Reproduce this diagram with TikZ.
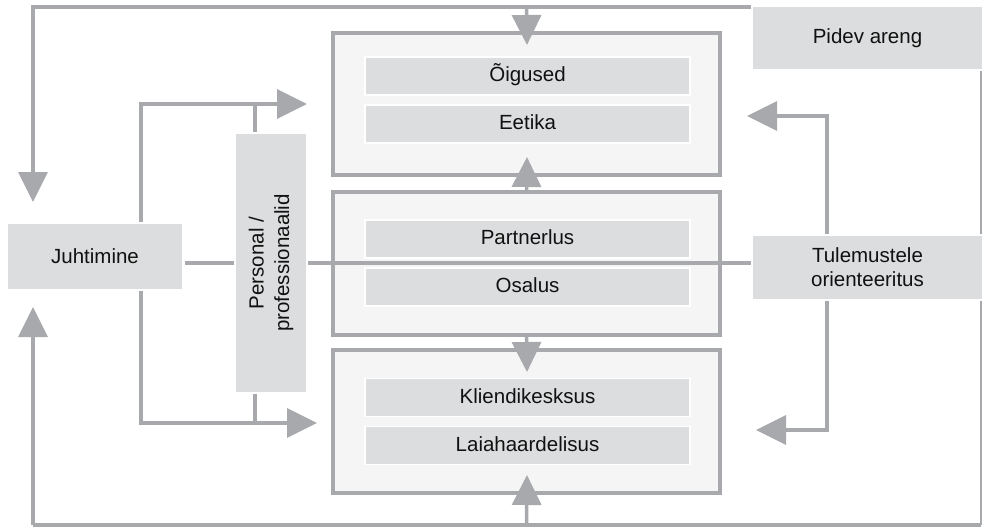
\documentclass[tikz,border=0pt]{standalone}
\usepackage{fontspec}
\setmainfont{Liberation Sans}
\usetikzlibrary{arrows.meta}
\definecolor{lg}{HTML}{A7A9AC}
\definecolor{bf}{HTML}{DCDDDE}
\definecolor{of}{HTML}{F5F5F5}
\definecolor{tx}{HTML}{111111}
\begin{document}
\begin{tikzpicture}[x=1pt,y=-1pt,
  conn/.style={draw=lg, line width=3.5pt},
  thinconn/.style={draw=lg, line width=2pt},
  arr/.style={conn, -{Triangle[length=30pt,width=29pt]}},
  outerbox/.style={draw=lg, line width=3.5pt, fill=of, minimum width=387pt, minimum height=142pt, inner sep=0pt},
  txt/.style={font=\fontsize{20.5}{24}\selectfont, text=tx},
  itembox/.style={txt, draw=white, line width=1.5pt, fill=bf, minimum width=325pt, minimum height=38pt, inner sep=0pt, text height=14.5pt, text depth=3pt},
  sidebox/.style={txt, draw=white, line width=1.5pt, fill=bf, inner sep=0pt, align=center}
]
\useasboundingbox[fill=white] (0,0) rectangle (983,528);

% outer boxes
\node[outerbox] (b1) at (526.5,104) {};
\node[outerbox, minimum height=143pt] (b2) at (526.5,263.5) {};
\node[outerbox, minimum height=143pt] (b3) at (526.5,421.5) {};

% inner items
\node[itembox] (oig) at (527.5,76) {Õigused};
\node[itembox] (eet) at (527.5,124) {Eetika};
\node[itembox] (par) at (527.5,239) {Partnerlus};
\node[itembox] (osa) at (527.5,287) {Osalus};
\node[itembox] (kli) at (527.5,397.5) {Kliendikesksus};
\node[itembox] (lai) at (527.5,445.5) {Laiahaardelisus};

% coordinates
\coordinate (tl) at (33,7);
\coordinate (bl) at (33,525);
\coordinate (br) at (981,525);
\coordinate (juhtTop) at (33,202);
\coordinate (juhtBot) at (33,307);
\coordinate (b1in) at (527,45);
\coordinate (b1up) at (527,157);
\coordinate (b3dn) at (527,372);
\coordinate (b3up) at (527,475);
\coordinate (lt) at (141,104);
\coordinate (lb) at (141,423);
\coordinate (ltTip) at (307,104);
\coordinate (lbTip) at (317,423);
\coordinate (pt) at (255,104);
\coordinate (pb) at (255,423);
\coordinate (rt) at (827,116);
\coordinate (rb) at (827,430);
\coordinate (rtTip) at (747,116);
\coordinate (rbTip) at (756,430);

% side boxes
\node[sidebox, minimum width=231pt, minimum height=64pt] (pid) at (867.5,38) {Pidev areng};

% right thin line behind result box
\draw[thinconn] (pid.south -| br) -- (br);

% horizontal line through the middle
\coordinate (hl) at (185,263);
\coordinate (hr) at (752,263);
\draw[conn] (hl) -- (hr);

% Juhtimine, Personal, Tulemustele
\node[sidebox, minimum width=176pt, minimum height=67pt] (juh) at (95,256.5) {Juhtimine};
\node[sidebox, rotate=90, minimum width=260pt, minimum height=72pt, font=\fontsize{20.5}{25.5}\selectfont] (per) at (271,263) {Personal /\\professionaalid};
\node[sidebox, minimum width=231pt, minimum height=65pt] (tul) at (867.5,267.5) {Tulemustele\\orienteeritus};

% top loop
\draw[arr] (pid.west |- tl) -- (tl) -- (juhtTop);
\draw[arr] (b1.north |- tl) -- (b1in);
% bottom loop
\draw[conn] (br) -- (bl);
\draw[arr] (bl) -- (juhtBot);
\draw[arr] (b3.south |- br) -- (b3up);
% between boxes
\draw[arr] (b2.north) -- (b1up);
\draw[arr] (b2.south) -- (b3dn);

% left brackets
\draw[arr] (juh.north -| lt) -- (lt) -- (ltTip);
\draw[conn] (per.east -| pt) -- (pt);
\draw[arr] (juh.south -| lb) -- (lb) -- (lbTip);
\draw[conn] (per.west -| pb) -- (pb);

% right brackets
\draw[arr] (tul.north -| rt) -- (rt) -- (rtTip);
\draw[arr] (tul.south -| rb) -- (rb) -- (rbTip);
\end{tikzpicture}
\end{document}
